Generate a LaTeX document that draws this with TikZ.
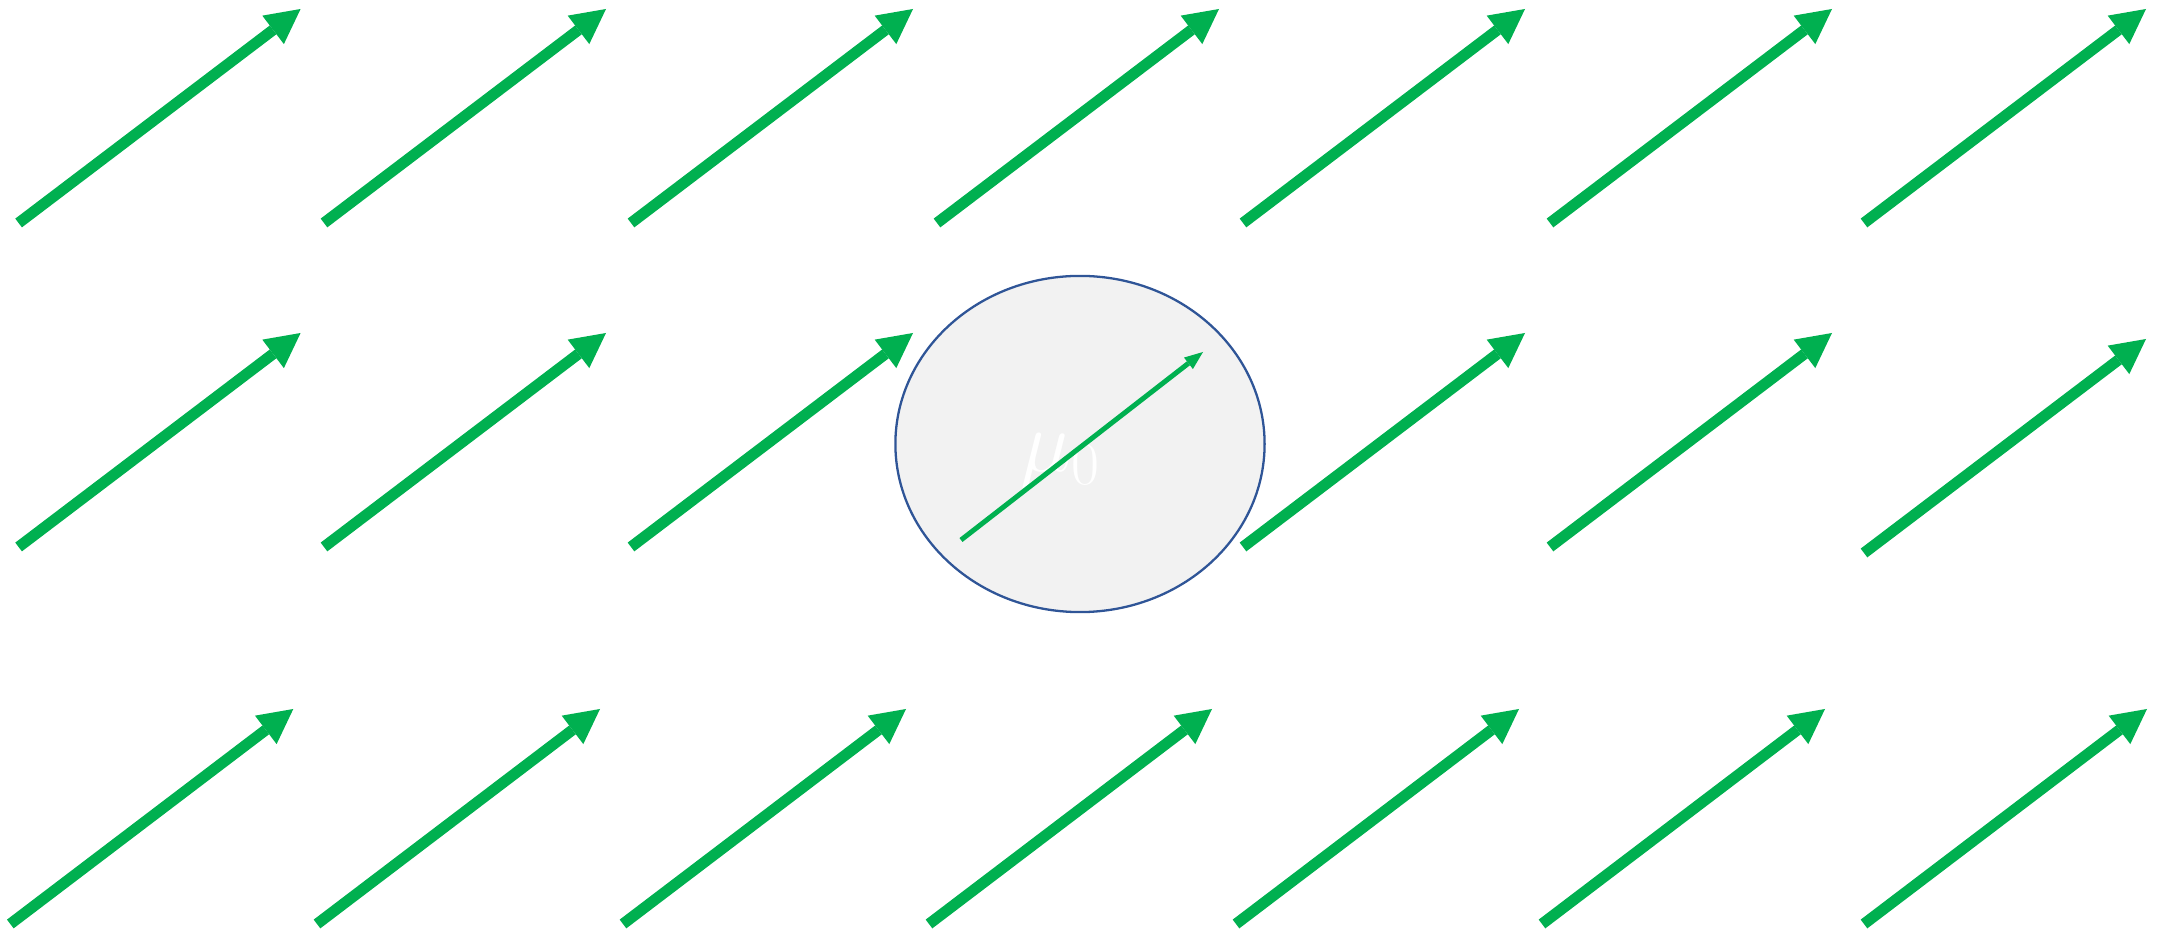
\documentclass[tikz,border=0pt]{standalone}
\usetikzlibrary{arrows.meta,shapes.geometric}
\definecolor{fieldgreen}{RGB}{0,176,80}
\definecolor{bodyfill}{RGB}{242,242,242}
\definecolor{bodyline}{RGB}{47,85,151}
\tikzset{
  field/.style={draw=fieldgreen, line width=3.13pt, line cap=butt,
    -{Triangle[length=9.82pt, width=10.16pt, line width=0pt]}},
  innerfield/.style={draw=fieldgreen, line width=1.42pt, line cap=butt,
    -{Triangle[length=5.24pt, width=4.13pt, line width=0pt]}},
  bodyshape/.style={ellipse, draw=bodyline, fill=bodyfill, line width=0.65pt,
    minimum width=3.69cm, minimum height=3.36cm, inner sep=0pt},
  bodylabel/.style={text=white, inner sep=0pt, font=\fontsize{24.5}{29}\selectfont}
}
\begin{document}
\begin{tikzpicture}[x=0.01cm, y=-0.01cm]
\useasboundingbox (0,0) rectangle (2159,931);
% row 1
\foreach \x [count=\i] in {18.6,324,631,937,1243,1550,1864}
  \draw[field] (\x,223) coordinate (ra\i) -- ++(282,-214) coordinate (rah\i);
% row 2
\foreach \x [count=\i] in {18.6,324,631}
  \draw[field] (\x,547) coordinate (rb\i) -- ++(282,-214) coordinate (rbh\i);
\foreach \x [count=\i from 5] in {1243,1550}
  \draw[field] (\x,547) coordinate (rb\i) -- ++(282,-214) coordinate (rbh\i);
\draw[field] (1864,553) coordinate (rb7) -- ++(282,-214) coordinate (rbh7);
% row 3
\foreach \x [count=\i] in {10.3,317,623,929,1236,1542,1864}
  \draw[field] (\x,924) coordinate (rc\i) -- ++(283,-215) coordinate (rch\i);
% body
\node[bodyshape] (body) at (1080,444) {};
\node[bodylabel] (mu) at (1061,461) {$\mu_0$};
\coordinate (it) at (961,540);
\coordinate (ih) at (1203,352);
\draw[innerfield] (it) -- (ih);
\end{tikzpicture}
\end{document}
